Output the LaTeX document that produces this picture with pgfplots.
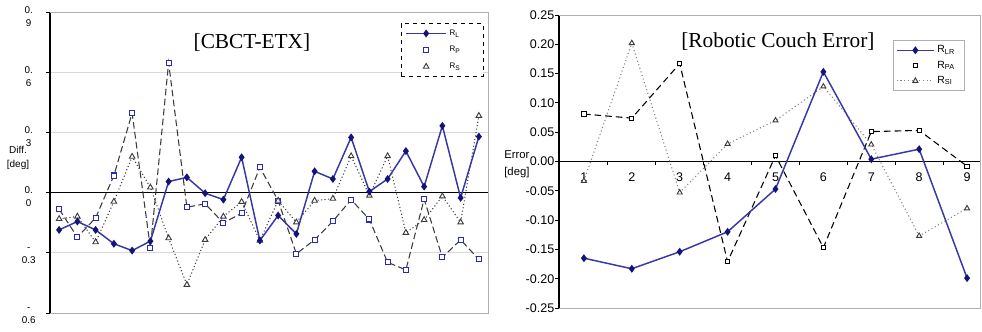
\documentclass[border=0pt]{standalone}
\usepackage{pgfplots}
\pgfplotsset{compat=1.18}
\usepackage{fontspec}
\setmainfont{Liberation Sans}
\newfontfamily\titlefont{Liberation Serif}
\definecolor{rl}{RGB}{55,55,165}
\definecolor{rlm}{RGB}{20,20,120}
\definecolor{rp}{RGB}{40,40,190}
\definecolor{dgray}{RGB}{60,60,60}
\definecolor{bgray}{RGB}{175,175,175}
\begin{document}
\begin{tikzpicture}
\useasboundingbox (0pt,0pt) rectangle (736.5pt,249pt);
% ---------------- left panel ----------------
\begin{axis}[
  at={(37.5pt,14.25pt)}, anchor=south west,
  scale only axis, width=328.5pt, height=225.75pt,
  xmin=0.5, xmax=24.5, ymin=-0.6, ymax=0.9,
  axis x line=middle, axis y line=left,
  axis line style={-, black, line width=0.8pt},
  xtick=\empty,
  ytick={-0.6,-0.3,0,0.3,0.6,0.9},
  yticklabels={{-\\{0.6}},{-\\{0.3}},{0.\\{0}},{0.\\{3}},{0.\\{6}},{0.\\{9}}},
  yticklabel style={align=center, anchor=north, font=\fontsize{7.4}{9.75}\selectfont, inner sep=0pt, xshift=-13pt, yshift=4.5pt},
  tick align=outside, major tick length=3pt,
  tick style={black, line width=0.6pt},
  ymajorgrids, major grid style={gray!30, line width=0.6pt},
  ylabel={Diff.\\{[deg]}},
  every axis y label/.style={at={(rel axis cs:-0.073,0.515)}, anchor=center, align=center, font=\fontsize{7.5}{10}\selectfont},
  extra description/.code={\draw[bgray, line width=0.7pt] (0,0) -- (1,0) -- (1,1) -- (0,1);
     \node[font=\titlefont\fontsize{16}{18}\selectfont] at (0.461,0.900) {[CBCT-ETX]};},
  legend style={at={(rel axis cs:0.801,0.963)}, anchor=north west, draw=black, dashed, line width=0.9pt,
     font=\fontsize{6}{7}\selectfont, row sep=2.8pt, inner xsep=3pt, inner ysep=2.5pt, fill=white},
  legend cell align=left,
  legend image code/.code={\draw[mark repeat=2,mark phase=2,#1] plot coordinates {(0pt,0pt) (15pt,0pt) (30pt,0pt)};},
]
\addplot[dgray, line width=0.8pt, dash pattern=on 5pt off 2.5pt, mark=square*, mark size=1.9pt,
  mark options={draw=rp, fill=white, solid, line width=0.8pt}, forget plot] coordinates {
 (1,-0.083) (2,-0.222) (3,-0.126) (4,0.085) (5,0.396) (6,-0.275) (7,0.647) (8,-0.073)
 (9,-0.056) (10,-0.151) (11,-0.103) (12,0.126) (13,-0.040) (14,-0.305) (15,-0.235) (16,-0.143)
 (17,-0.035) (18,-0.134) (19,-0.348) (20,-0.385) (21,-0.033) (22,-0.323) (23,-0.235) (24,-0.333)};
\addplot[dgray, line width=0.8pt, dash pattern=on 0.8pt off 1.8pt, mark=triangle*, mark size=2.4pt,
  mark options={draw=dgray, fill=white, solid, line width=0.7pt}, forget plot] coordinates {
 (1,-0.131) (2,-0.119) (3,-0.247) (4,-0.045) (5,0.179) (6,0.026) (7,-0.227) (8,-0.459)
 (9,-0.235) (10,-0.119) (11,-0.046) (12,-0.239) (13,-0.040) (14,-0.148) (15,-0.040) (16,-0.030)
 (17,0.182) (18,-0.015) (19,0.182) (20,-0.200) (21,-0.136) (22,-0.018) (23,-0.148) (24,0.383)};
\addplot[rl, solid, line width=1.1pt, mark=diamond*, mark size=2.1pt,
  mark options={draw=rlm, fill=rlm, solid}] coordinates {
 (1,-0.186) (2,-0.144) (3,-0.186) (4,-0.255) (5,-0.289) (6,-0.242) (7,0.055) (8,0.076)
 (9,-0.003) (10,-0.035) (11,0.176) (12,-0.239) (13,-0.114) (14,-0.206) (15,0.106) (16,0.068)
 (17,0.275) (18,0.005) (19,0.068) (20,0.207) (21,0.030) (22,0.333) (23,-0.026) (24,0.279)};
\addlegendentry{R\textsubscript{L}\hspace*{12pt}}
\addlegendimage{only marks, mark=square*, mark size=1.9pt, mark options={draw=rp, fill=white, solid, line width=0.8pt}}
\addlegendentry{R\textsubscript{P}\hspace*{12pt}}
\addlegendimage{only marks, mark=triangle*, mark size=2.4pt, mark options={draw=dgray, fill=white, solid, line width=0.7pt}}
\addlegendentry{R\textsubscript{S}\hspace*{12pt}}
\end{axis}
% ---------------- right panel ----------------
\begin{axis}[
  at={(419.25pt,18pt)}, anchor=south west,
  scale only axis, width=315.75pt, height=219.75pt,
  xmin=0.48, xmax=9.27, ymin=-0.25, ymax=0.25,
  axis x line=middle, axis y line=left,
  axis line style={-, black, line width=0.8pt},
  xtick={1.5,2.5,3.5,4.5,5.5,6.5,7.5,8.5}, xticklabels={},
  extra x ticks={1,2,3,4,5,6,7,8,9},
  extra x tick style={major tick length=0pt, xticklabel style={yshift=-5pt}},
  ytick={-0.25,-0.2,-0.15,-0.1,-0.05,0,0.05,0.1,0.15,0.2,0.25},
  yticklabel style={xshift=3pt, /pgf/number format/.cd, fixed, fixed zerofill, precision=2, assume math mode=true},
  xticklabel style={/pgf/number format/assume math mode=true},
  ticklabel style={font=\fontsize{9.4}{10}\selectfont},
  tick align=outside, major tick length=3pt,
  tick style={black, line width=0.6pt},
  ylabel={Error\\{[deg]}},
  every axis y label/.style={at={(rel axis cs:-0.10,0.49)}, anchor=center, align=left, font=\fontsize{8.5}{12.5}\selectfont},
  extra description/.code={\draw[bgray, line width=0.7pt] (0,0) -- (1,0) -- (1,1) -- (0,1);
     \node[font=\titlefont\fontsize{16}{18}\selectfont] at (0.520,0.908) {[Robotic Couch Error]};},
  legend style={at={(rel axis cs:0.793,0.915)}, anchor=north west, draw=bgray, solid, line width=0.7pt,
     font=\fontsize{7.8}{8.5}\selectfont, row sep=0.6pt, inner xsep=2pt, inner ysep=2pt, fill=white},
  legend cell align=left,
  legend image code/.code={\draw[mark repeat=2,mark phase=2,#1] plot coordinates {(0pt,0pt) (14pt,0pt) (28pt,0pt)};},
]
\addplot[black, line width=0.8pt, dash pattern=on 5pt off 3pt, mark=square*, mark size=1.6pt,
  mark options={draw=black, fill=white, solid, line width=0.7pt}, forget plot] coordinates {
 (1,0.081) (2,0.074) (3,0.167) (4,-0.171) (5,0.010) (6,-0.147) (7,0.051) (8,0.053) (9,-0.008)};
\addplot[gray, line width=0.8pt, dash pattern=on 0.8pt off 2pt, mark=triangle*, mark size=2.2pt,
  mark options={draw=dgray, fill=white, solid, line width=0.7pt}, forget plot] coordinates {
 (1,-0.033) (2,0.202) (3,-0.053) (4,0.030) (5,0.070) (6,0.128) (7,0.029) (8,-0.127) (9,-0.080)};
\addplot[rl, solid, line width=1.1pt, mark=diamond*, mark size=2.1pt,
  mark options={draw=rlm, fill=rlm, solid}] coordinates {
 (1,-0.165) (2,-0.183) (3,-0.154) (4,-0.120) (5,-0.047) (6,0.153) (7,0.004) (8,0.021) (9,-0.199)};
\addlegendentry{R\textsubscript{LR}\hspace*{3pt}}
\addlegendimage{only marks, mark=square*, mark size=1.6pt, mark options={draw=black, fill=white, solid, line width=0.7pt}}
\addlegendentry{R\textsubscript{PA}\hspace*{3pt}}
\addlegendimage{gray, line width=0.8pt, dash pattern=on 0.8pt off 2pt, mark=triangle*, mark size=2.2pt, mark options={draw=dgray, fill=white, solid, line width=0.7pt}}
\addlegendentry{R\textsubscript{SI}\hspace*{3pt}}
\end{axis}
\end{tikzpicture}
\end{document}
